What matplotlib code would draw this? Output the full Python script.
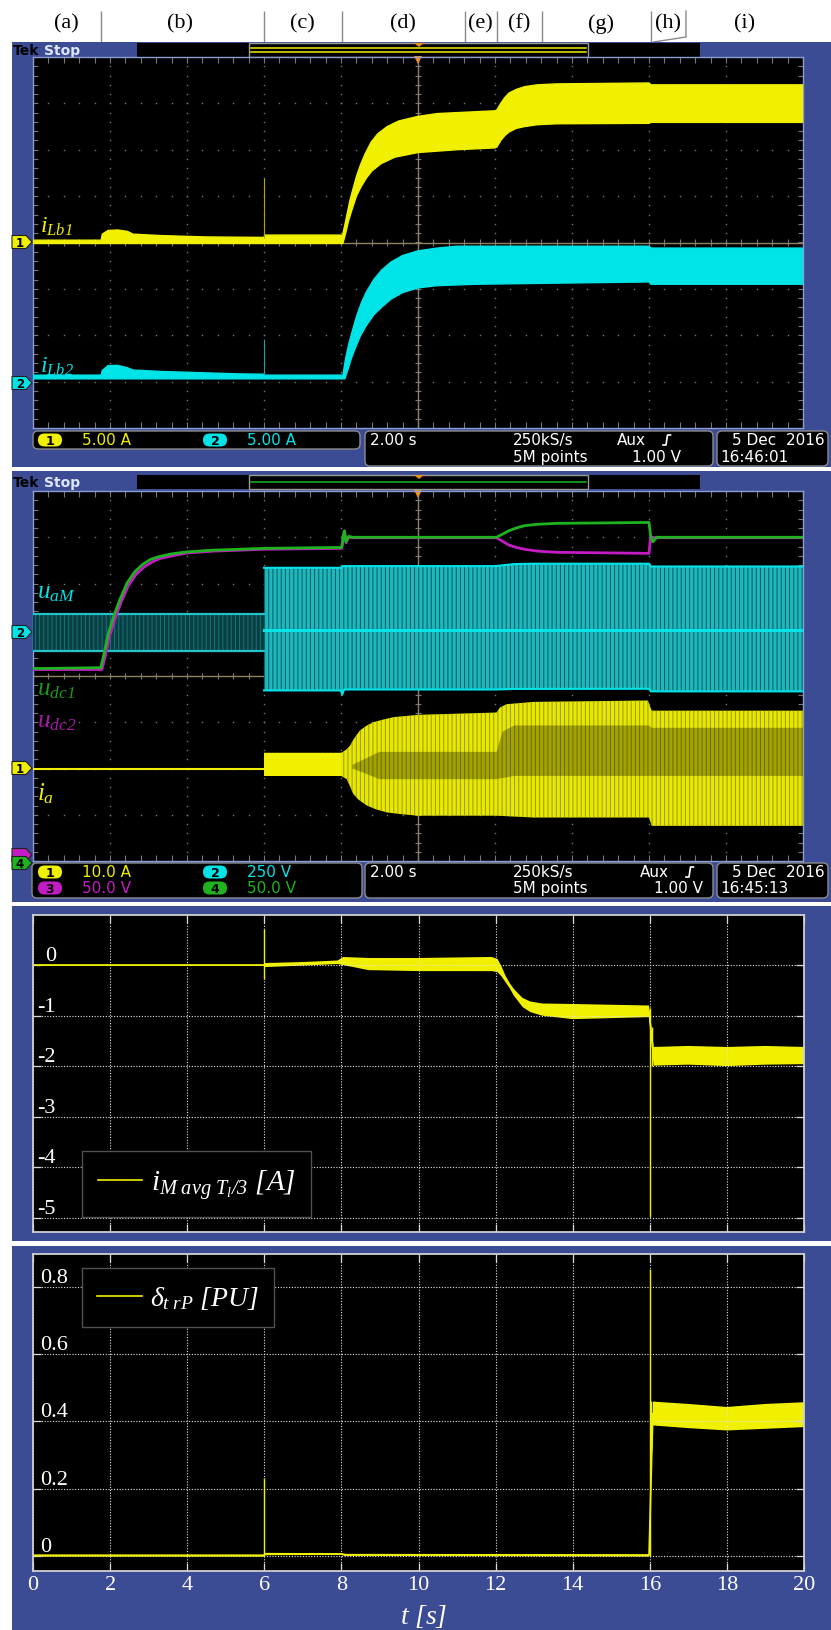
import numpy as np
import matplotlib
matplotlib.use("Agg")
import matplotlib.pyplot as plt
from matplotlib.patches import Rectangle, FancyBboxPatch, Polygon

plt.rcParams["mathtext.fontset"] = "custom"
plt.rcParams["mathtext.it"] = "Liberation Serif:italic"
plt.rcParams["mathtext.rm"] = "Liberation Serif:italic"
plt.rcParams["mathtext.bf"] = "Liberation Serif:bold"
plt.rcParams["hatch.linewidth"] = 0.7

W, H = 831, 1631
BLUE = "#3c4c94"
YEL = "#f0f000"
CYAN = "#00e4e8"
GRN = "#1fb41f"
MAG = "#c41cc4"

# ---------------- operating phases (time in s) ----------------
phase_labels = ["(a)", "(b)", "(c)", "(d)", "(e)", "(f)", "(g)", "(h)", "(i)"]
phase_label_t = [0.86, 3.82, 6.99, 9.61, 11.61, 12.62, 14.75, 16.49, 18.49]
phase_bounds_t = [1.77, 6.0, 8.03, 11.22, 12.05, 13.22, 16.05]

# ---------------- scope 1: boost inductor currents [A] ----------------
ilb1_up_t = [0.0, 1.77, 1.80, 1.95, 2.20, 2.45, 2.60, 3.30, 4.50, 6.00, 6.02, 8.00, 8.03,
             8.10, 8.17, 8.23, 8.30, 8.40, 8.50, 8.62, 8.78, 8.95, 9.20, 9.50, 10.0, 10.5, 11.0,
             12.0, 12.05, 12.15, 12.25, 12.36, 12.55, 12.77, 13.1, 13.6, 16.0, 16.05, 20.0]
ilb1_up = [0.25, 0.25, 0.9, 1.3, 1.35, 1.2, 0.9, 0.75, 0.6, 0.55, 0.8, 0.8, 0.6,
           1.9, 3.3, 4.5, 5.6, 7.1, 8.3, 9.5, 10.8, 11.7, 12.5, 13.1, 13.6, 13.9, 14.0,
           14.2, 14.3, 15.0, 15.6, 16.1, 16.5, 16.8, 17.0, 17.1, 17.2, 17.0, 17.0]
ilb1_lo_t = [0.0, 8.05, 8.12, 8.20, 8.29, 8.40, 8.52, 8.65, 8.80, 9.04, 9.40, 10.0, 11.0,
             12.0, 12.05, 12.15, 12.25, 12.36, 12.55, 12.77, 13.1, 13.6, 16.0, 16.05, 20.0]
ilb1_lo = [-0.1, -0.1, 1.0, 2.4, 3.6, 5.0, 6.0, 6.9, 7.7, 8.5, 9.2, 9.7, 10.0,
           10.2, 10.3, 11.0, 11.5, 11.9, 12.3, 12.5, 12.7, 12.8, 12.85, 12.95, 12.95]
ilb1_spike_t = [6.0]
ilb1_spike = [7.0]

ilb2_up_t = [0.0, 1.77, 1.80, 1.95, 2.20, 2.45, 2.60, 3.30, 5.30, 6.00, 6.02, 8.05,
             8.12, 8.20, 8.29, 8.40, 8.52, 8.65, 8.85, 9.05, 9.30, 9.60, 10.0, 10.5, 11.0,
             16.0, 16.05, 20.0]
ilb2_up = [0.7, 0.7, 1.2, 1.73, 1.75, 1.5, 1.25, 1.1, 0.84, 0.8, 0.7, 0.7,
           2.5, 4.0, 5.4, 7.0, 8.4, 9.6, 11.0, 12.0, 12.9, 13.6, 14.1, 14.4, 14.6,
           14.6, 14.4, 14.4]
ilb2_lo_t = [0.0, 8.10, 8.18, 8.27, 8.36, 8.50, 8.65, 8.85, 9.05, 9.30, 9.60, 10.0, 10.5,
             11.5, 16.0, 16.05, 20.0]
ilb2_lo = [0.3, 0.3, 1.3, 2.5, 3.5, 4.9, 6.0, 7.2, 8.0, 8.9, 9.6, 10.1, 10.35,
           10.5, 10.75, 10.5, 10.5]
ilb2_spike_t = [6.0]
ilb2_spike = [4.6]

# ---------------- scope 2 ----------------
# DC-link capacitor voltages [V]
udc1_t = [0.0, 1.76, 1.85, 1.95, 2.10, 2.25, 2.45, 2.65, 2.86, 3.05, 3.27, 3.60, 3.96, 4.65,
          6.0, 8.02, 8.06, 8.09, 8.13, 8.20, 8.30, 12.04, 12.2, 12.36, 12.55, 12.77, 13.1,
          13.6, 16.0, 16.04, 16.10, 16.20, 20.0]
udc1 = [208, 209, 225, 245, 265, 282, 301, 313, 321, 326, 329, 332, 334, 336,
        338, 339, 352, 357, 345, 351, 350, 350, 353.5, 357, 360, 362.5, 364,
        365, 366, 352, 345, 350, 350]
udc2_t = [0.0, 1.79, 1.88, 1.98, 2.13, 2.28, 2.48, 2.68, 2.89, 3.08, 3.30, 3.63, 4.00, 4.70,
          6.0, 8.02, 8.06, 8.09, 8.13, 8.20, 8.30, 12.04, 12.2, 12.36, 12.55, 12.77, 13.1,
          13.6, 16.0, 16.04, 16.2, 20.0]
udc2 = [207, 207, 222, 242, 262, 279, 298, 310, 318, 323, 327, 330, 333, 335,
        337, 338, 351, 356, 344, 350, 349.5, 349.5, 345.5, 341.6, 339, 337, 335,
        333.7, 332.6, 350, 349.5, 349.5]

# converter leg voltage u_aM [V]
uam_pre_t = [0.0, 6.0]
uam_pre_up = [86, 86]
uam_pre_lo = [-117, -117]
uam_up_t = [6.0, 8.0, 8.05, 12.0, 12.5, 13.0, 16.0, 16.05, 20.0]
uam_up = [335, 335, 344, 344, 355, 357, 357, 342, 342]
uam_lo_t = [6.0, 8.0, 8.03, 8.08, 12.0, 12.5, 16.0, 16.05, 20.0]
uam_lo = [-328, -328, -351, -323, -323, -320, -319, -333, -333]
uam_mid_t = [6.0, 20.0]
uam_mid = [-4, -4]

# phase current i_a [A]
ia_zero_t = [0.0, 6.0]
ia_zero = [0.0, 0.0]
ia_up_t = [6.0, 8.0, 8.05, 8.15, 8.23, 8.35, 8.49, 8.65, 8.84, 9.10, 9.36, 10.0, 12.04,
           12.13, 12.3, 13.0, 15.97, 16.07, 20.0]
ia_up = [3.4, 3.4, 3.6, 4.2, 4.9, 6.6, 8.2, 9.2, 10.0, 10.6, 11.1, 11.6, 12.1,
         13.2, 13.9, 14.4, 14.7, 12.5, 12.5]
ia_lo_t = [6.0, 8.0, 8.15, 8.22, 8.32, 8.45, 8.55, 8.67, 8.90, 9.19, 9.60, 10.0, 12.04,
           13.0, 16.0, 16.07, 20.0]
ia_lo = [-1.6, -1.6, -2.3, -3.6, -5.5, -6.7, -7.3, -8.0, -8.8, -9.5, -9.9, -10.2, -10.2,
         -10.6, -10.6, -12.4, -12.4]
ia_core_up_t = [8.3, 9.0, 12.04, 12.2, 12.5, 16.0, 16.07, 20.0]
ia_core_up = [0.8, 3.6, 3.6, 8.0, 9.3, 9.3, 8.8, 8.8]
ia_core_lo_t = [8.3, 9.0, 12.04, 12.5, 16.0, 20.0]
ia_core_lo = [0.0, -2.3, -2.3, -1.6, -1.6, -1.6]

# ---------------- averaged module current [A] ----------------
im_t = [0.0, 5.99, 6.02, 7.0, 7.9, 8.05, 8.7, 10.0, 11.9, 12.05, 12.15, 12.25, 12.36,
        12.47, 12.57, 12.7, 12.9, 13.2, 14.0, 15.98, 16.1, 17.0, 18.0, 19.0, 20.0]
im_up = [0.01, 0.01, 0.04, 0.06, 0.09, 0.16, 0.14, 0.14, 0.16, 0.12, -0.02, -0.2, -0.35,
         -0.47, -0.55, -0.65, -0.72, -0.76, -0.77, -0.8, -1.62, -1.6, -1.62, -1.6, -1.62]
im_lo = [-0.01, -0.01, -0.04, -0.01, 0.02, 0.0, -0.1, -0.12, -0.12, -0.14, -0.22, -0.33, -0.45,
         -0.6, -0.7, -0.83, -0.93, -1.0, -1.07, -1.03, -1.99, -1.97, -2.0, -1.97, -1.96]
im_spike_t = [6.0, 16.0, 16.06]
im_spike_lo = [-0.28, -4.98, -1.99]
im_spike_hi = [0.71, -0.85, -1.23]
im_yticks = [0, -1, -2, -3, -4, -5]
im_yticklabels = ["0", "-1", "-2", "-3", "-4", "-5"]

# ---------------- duty ratio [PU] ----------------
d_t = [0.0, 5.99, 6.02, 8.0, 8.1, 15.98, 16.08, 17.0, 18.0, 19.0, 20.0]
d_up = [0.004, 0.004, 0.009, 0.008, 0.006, 0.005, 0.459, 0.452, 0.443, 0.452, 0.457]
d_lo = [-0.002, -0.002, 0.002, 0.003, 0.0, -0.002, 0.388, 0.38, 0.373, 0.378, 0.383]
d_spike_t = [6.0, 16.0, 16.04]
d_spike_lo = [0.0, 0.0, 0.31]
d_spike_hi = [0.232, 0.853, 0.46]
d_yticks = [0.0, 0.2, 0.4, 0.6, 0.8]
d_yticklabels = ["0", "0.2", "0.4", "0.6", "0.8"]

t_ticks = list(range(0, 21, 2))
t_ticklabels = [str(v) for v in t_ticks]

# scope readouts
scope1_channels = [("1", "5.00 A", YEL), ("2", "5.00 A", CYAN)]
scope2_channels = [("1", "10.0 A", YEL), ("2", "250 V", CYAN), ("3", "50.0 V", MAG), ("4", "50.0 V", GRN)]
timebase = "2.00 s"
sample_rate = "250kS/s"
record_len = "5M points"
trig_src = "Aux"
trig_level = "1.00 V"
date_str = "5 Dec  2016"
clock_str = ["16:46:01", "16:45:13"]

# ======================================================================
fig = plt.figure(figsize=(W / 100, H / 100), dpi=100, facecolor="white")


def frect(x0, y0, x1, y1):
    return [x0 / W, 1 - y1 / H, (x1 - x0) / W, (y1 - y0) / H]


def pix_axes(z):
    a = fig.add_axes([0, 0, 1, 1], zorder=z)
    a.set_xlim(0, W)
    a.set_ylim(H, 0)
    a.axis("off")
    return a


def band(ax, tu, vu, tl, vl, **kw):
    xs = np.concatenate([np.asarray(tu, float), np.asarray(tl, float)[::-1]])
    ys = np.concatenate([np.asarray(vu, float), np.asarray(vl, float)[::-1]])
    ax.fill(xs, ys, **kw)


bg = pix_axes(0)
ov = pix_axes(10)

# blue instrument panels
for y0, y1 in [(43, 468), (472, 903), (907, 1242), (1247, 1631)]:
    bg.add_patch(Rectangle((12, y0), W - 12, y1 - y0, facecolor=BLUE, edgecolor="none"))

# phase labels above the first scope
lab = fig.add_axes(frect(33, 0, 803, 43), zorder=1)
lab.set_xlim(0, 20)
lab.set_ylim(43, 0)
lab.axis("off")
lab.vlines(phase_bounds_t, 12, 43, color="#8a8a8a", lw=1.0)
lab.plot([16.96, 16.96, 16.12], [12, 38, 43], color="#8a8a8a", lw=1.0)
for s, tx in zip(phase_labels, phase_label_t):
    lab.text(tx, 24, s, ha="center", va="center", fontsize=16,
             family="Liberation Serif", color="black")


def scope_header(ytop, line_colors):
    yc = ytop + 8
    bg.text(13, yc, "Tek", fontsize=10, fontweight="bold", color="black",
            va="center", family="DejaVu Sans")
    bg.text(44, yc, "Stop", fontsize=10, fontweight="bold", color="#dfe6ff",
            va="center", family="DejaVu Sans")
    bg.add_patch(Rectangle((137, ytop + 1), 563, 13.5, facecolor="black", edgecolor="none"))
    bg.add_patch(Rectangle((249, ytop + 1), 339, 13.5, facecolor="black",
                           edgecolor="#9a9a9a", lw=1.0))
    n = len(line_colors)
    for k, c in enumerate(line_colors):
        yy = yc + (k - (n - 1) / 2) * 4
        bg.plot([251, 586], [yy, yy], color=c, lw=1.1)
    bg.add_patch(Polygon([[414, ytop + 1], [424, ytop + 1], [419, ytop + 5]],
                         closed=True, facecolor="#f0901c", edgecolor="none"))


def scope_grid(y0, y1):
    g = fig.add_axes(frect(33, y0, 803, y1), zorder=2)
    g.set_facecolor("black")
    g.set_xlim(0, 10)
    g.set_ylim(-4, 4)
    g.set_xticks([])
    g.set_yticks([])
    for s in g.spines.values():
        s.set_color("#8c9bd2")
        s.set_linewidth(1.0)
    mx = np.arange(0, 10.001, 0.2)
    my = np.arange(-4, 4.001, 0.2)
    dot = dict(ls="none", marker="s", ms=1.0, mew=0, color="#777777")
    for xv in range(1, 10):
        g.plot(np.full_like(my, xv), my, **dot)
    for yv in range(-3, 4):
        g.plot(mx, np.full_like(mx, yv), **dot)
    tk = dict(color="#777777", lw=0.8)
    g.vlines(mx, 3.88, 4.0, **tk)
    g.vlines(mx, -4.0, -3.88, **tk)
    g.hlines(my, 0, 0.06, **tk)
    g.hlines(my, 9.94, 10, **tk)
    g.vlines(mx, -0.07, 0.07, **tk)
    g.hlines(my, 4.96, 5.04, **tk)
    g.axhline(0, color="#8f8266", lw=1.0)
    g.axvline(5, color="#8f8266", lw=1.0)
    # trigger position marker
    g.plot([5], [3.93], marker="v", ms=6, color="#f0901c", mew=0, clip_on=False)
    return g


def chan_axes(y0, y1, lo, hi):
    a = fig.add_axes(frect(33, y0, 803, y1), zorder=3)
    a.set_xlim(0, 20)
    a.set_ylim(lo, hi)
    a.axis("off")
    return a


def ch_marker(y, num, color):
    ov.add_patch(Polygon([[12, y - 6.5], [26, y - 6.5], [32, y], [26, y + 6.5], [12, y + 6.5]],
                         closed=True, facecolor=color, edgecolor="#202020", lw=0.8))
    if num:
        ov.text(20, y + 0.5, num, ha="center", va="center", fontsize=8.5,
                fontweight="bold", color="black", family="DejaVu Sans")


def rbox(x0, y0, x1, y1):
    bg.add_patch(FancyBboxPatch((x0, y0), x1 - x0, y1 - y0,
                                boxstyle="round,pad=0,rounding_size=5",
                                facecolor="black", edgecolor="#8c8c8c", lw=1.0))


def badge(x, y, num, color):
    bg.add_patch(FancyBboxPatch((x - 12, y - 6.5), 24, 13,
                                boxstyle="round,pad=0,rounding_size=6.5",
                                facecolor=color, edgecolor="none"))
    bg.text(x, y + 0.5, num, ha="center", va="center", fontsize=9,
            fontweight="bold", color="black", family="DejaVu Sans")


def trig_symbol(x, y):
    bg.plot([x, x + 3, x + 4.5, x + 7.5], [y + 5, y + 5, y - 5, y - 5], color="white", lw=1.2)


def status_bar(left, rows_y, channels, aux_x, lvl_x, clock):
    x0, y0, x1, y1 = left
    rbox(x0, y0, x1, y1)
    rbox(365, y0, 713, y1 if len(rows_y) > 1 else y1 + 17)
    rbox(717, y0, 828, y1 if len(rows_y) > 1 else y1 + 17)
    ry = rows_y if len(rows_y) > 1 else [rows_y[0], rows_y[0] + 17]
    st = dict(fontsize=11, family="DejaVu Sans", va="center")
    for k, (num, txt, col) in enumerate(channels):
        bx = 50 if k % 2 == 0 else 215
        by = ry[k // 2]
        badge(bx, by, num, col)
        bg.text(bx + 32, by, txt, color=col, **st)
    bg.text(370, ry[0], timebase, color="white", **st)
    bg.text(513, ry[0], sample_rate, color="white", **st)
    bg.text(aux_x, ry[0], trig_src, color="white", **st)
    trig_symbol(aux_x + 46, ry[0])
    bg.text(513, ry[1], record_len, color="white", **st)
    bg.text(lvl_x, ry[1], trig_level, color="white", ha="right", **st)
    bg.text(732, ry[0], date_str, color="white", **st)
    bg.text(720, ry[1], clock, color="white", **st)


# ---------------- scope 1 ----------------
scope_header(43, [YEL, YEL])
scope_grid(58, 429)
c1 = chan_axes(58, 429, -20, 20)   # ch1 5 A/div
c2 = chan_axes(58, 429, -5, 35)    # ch2 5 A/div

band(c2, ilb2_up_t, ilb2_up, ilb2_lo_t, ilb2_lo, facecolor=CYAN, edgecolor="none")
c2.plot(ilb2_up_t, ilb2_up, color=CYAN, lw=1.0)
c2.plot(ilb2_lo_t, ilb2_lo, color=CYAN, lw=1.0)
c2.vlines(ilb2_spike_t, 0.7, ilb2_spike, color="#20a0a0", lw=0.8)

band(c1, ilb1_up_t, ilb1_up, ilb1_lo_t, ilb1_lo, facecolor=YEL, edgecolor="none")
c1.plot(ilb1_up_t, ilb1_up, color=YEL, lw=1.0)
c1.plot(ilb1_lo_t, ilb1_lo, color=YEL, lw=1.0)
c1.vlines(ilb1_spike_t, 0.5, ilb1_spike, color="#a8a800", lw=0.8)

ch_marker(243, "1", YEL)
ch_marker(384, "2", CYAN)
ov.text(40, 233, r"$i_{Lb1}$", color=YEL, fontsize=17)
ov.text(40, 373, r"$i_{Lb2}$", color=CYAN, fontsize=17)

status_bar((33, 432, 360, 450), [441], scope1_channels, 617, 681, clock_str[0])

# ---------------- scope 2 ----------------
scope_header(475, [GRN])
scope_grid(492, 862)
a_u = chan_axes(492, 862, -1250, 750)   # ch2 250 V/div
a_i = chan_axes(492, 862, -20, 60)      # ch1 10 A/div
a_dc = chan_axes(492, 862, 0, 400)      # ch3/ch4 50 V/div

band(a_u, uam_pre_t, uam_pre_up, uam_pre_t, uam_pre_lo,
     facecolor="#0a3e42", hatch="||||", edgecolor="#13767a", lw=0)
a_u.plot(uam_pre_t, uam_pre_up, color="#22c4ca", lw=1.6)
a_u.plot(uam_pre_t, uam_pre_lo, color="#22c4ca", lw=1.6)
band(a_u, uam_up_t, uam_up, uam_lo_t, uam_lo,
     facecolor="#1cb8bd", hatch="||||", edgecolor="#0b5a5e", lw=0)
a_u.plot(uam_up_t, uam_up, color=CYAN, lw=1.5)
a_u.plot(uam_lo_t, uam_lo, color=CYAN, lw=1.5)
a_u.plot(uam_mid_t, uam_mid, color=CYAN, lw=2.2)

a_i.plot(ia_zero_t, ia_zero, color=YEL, lw=1.5)
band(a_i, ia_up_t, ia_up, ia_lo_t, ia_lo,
     facecolor="#e8e800", hatch="||||", edgecolor="#9a9a00", lw=0)
band(a_i, ia_up_t[:2], ia_up[:2], ia_lo_t[:2], ia_lo[:2], facecolor=YEL, edgecolor="none")
band(a_i, ia_core_up_t, ia_core_up, ia_core_lo_t, ia_core_lo,
     facecolor="black", alpha=0.3, edgecolor="none")

a_dc.plot(udc2_t, udc2, color=MAG, lw=2.0)
a_dc.plot(udc1_t, udc1, color=GRN, lw=2.0)

ch_marker(633, "2", CYAN)
ch_marker(769, "1", YEL)
ch_marker(856, "", MAG)
ch_marker(864, "4", GRN)
ov.text(37, 598, r"$u_{aM}$", color=CYAN, fontsize=18)
ov.text(37, 695, r"$u_{dc1}$", color="#1a9a1a", fontsize=18)
ov.text(37, 727, r"$u_{dc2}$", color="#a818a8", fontsize=18)
ov.text(37, 800, r"$i_{a}$", color=YEL, fontsize=18)

status_bar((32, 864, 362, 899), [873, 889], scope2_channels, 640, 703, clock_str[1])


# ---------------- computed quantities ----------------
def result_axes(y0, y1, ylim, yticks, ylabels, lab_dx, lab_ha):
    a = fig.add_axes(frect(33, y0, 804, y1), zorder=2)
    a.set_facecolor("black")
    a.set_xlim(0, 20)
    a.set_ylim(*ylim)
    a.set_xticks(t_ticks)
    a.set_yticks(yticks)
    a.tick_params(direction="in", length=6, width=0.9, colors="#d8d8d8",
                  top=True, right=True, labelleft=False, labelbottom=False)
    a.grid(True, color="#e4e4e4", ls=(0, (1, 1.5)), lw=0.8)
    for s in a.spines.values():
        s.set_color("#d0d0d0")
        s.set_linewidth(1.3)
    for v, s in zip(yticks, ylabels):
        a.annotate(s, xy=(0, v), xytext=(lab_dx, 5), textcoords="offset pixels",
                   ha=lab_ha, va="baseline", color="white", fontsize=16,
                   family="Liberation Serif")
    return a


ax3 = result_axes(916, 1233, (-5.28, 0.99), im_yticks, im_yticklabels, 23, "right")
band(ax3, im_t, im_up, im_t, im_lo, facecolor=YEL, edgecolor="none")
ax3.plot(im_t, np.add(im_up, im_lo) / 2, color=YEL, lw=1.2,
         label=r"$i_{M\ avg\ T_{l}/3}\ [A]$")
ax3.vlines(im_spike_t, im_spike_lo, im_spike_hi, color=YEL, lw=1.0)
leg3 = ax3.legend(loc="lower left", bbox_to_anchor=(0.0636, 0.047), borderaxespad=0,
                  fontsize=21, handlelength=1.5, handletextpad=0.3, borderpad=0.55,
                  frameon=True, fancybox=False, facecolor="black", edgecolor="#505050",
                  framealpha=1)
for txt in leg3.get_texts():
    txt.set_color("white")

ax4 = result_axes(1255, 1572, (-0.045, 0.898), d_yticks, d_yticklabels, 7, "left")
band(ax4, d_t, d_up, d_t, d_lo, facecolor=YEL, edgecolor="none")
ax4.plot(d_t, np.add(d_up, d_lo) / 2, color=YEL, lw=1.2, label=r"$\delta_{t\ rP}\ [PU]$")
ax4.vlines(d_spike_t, d_spike_lo, d_spike_hi, color=YEL, lw=1.0)
ax4.tick_params(labelbottom=True, pad=3)
ax4.set_xticklabels(t_ticklabels, fontsize=16, family="Liberation Serif", color="white")
leg4 = ax4.legend(loc="upper left", bbox_to_anchor=(0.0636, 0.956), borderaxespad=0,
                  fontsize=20, handlelength=1.6, handletextpad=0.3, borderpad=0.55,
                  frameon=True, fancybox=False, facecolor="black", edgecolor="#505050",
                  framealpha=1)
for txt in leg4.get_texts():
    txt.set_color("white")
ov.text(424, 1616, r"$t\ [s]$", ha="center", va="center", color="white", fontsize=20)

fig.savefig("out.png", dpi=100, facecolor="white")
